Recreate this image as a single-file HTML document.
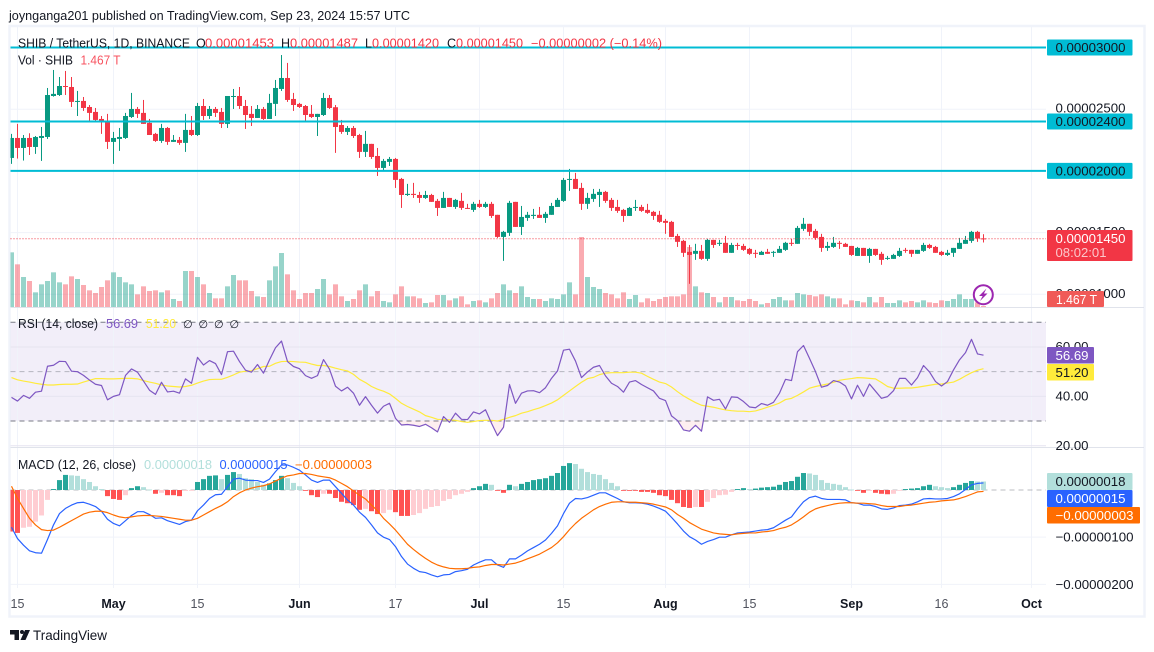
<!DOCTYPE html>
<html lang="en">
<head>
<meta charset="utf-8">
<title>SHIB / TetherUS 1D chart</title>
<style>
html,body{margin:0;padding:0;background:#fff;width:1154px;height:652px;overflow:hidden}
svg{display:block;font-family:"Liberation Sans",sans-serif}
text{white-space:pre}
</style>
</head>
<body>
<svg id="chart" xmlns="http://www.w3.org/2000/svg" width="1154" height="652" viewBox="0 0 1154 652">
<defs>
<clipPath id="plotClip"><rect x="10.5" y="27" width="1035.5" height="590"/></clipPath>
<clipPath id="oversoldClip"><rect x="10.5" y="421" width="1035.5" height="26"/></clipPath>
</defs>
<rect width="1154" height="652" fill="#ffffff"/>
<text x="9" y="20" font-size="12.5" fill="#131722" textLength="401" lengthAdjust="spacingAndGlyphs">joynganga201 published on TradingView.com, Sep 23, 2024 15:57 UTC</text>
<rect x="9.5" y="26" width="1135" height="590.5" fill="none" stroke="#f0f3fa" stroke-width="2.5"/>
<g id="plot"></g>

<g font-size="12.5">
<text x="18" y="47.5" fill="#131722" textLength="172" lengthAdjust="spacingAndGlyphs">SHIB / TetherUS, 1D, BINANCE</text>
<text x="196" y="47.5" fill="#131722">O</text>
<text x="205" y="47.5" fill="#f23645" textLength="69" lengthAdjust="spacingAndGlyphs">0.00001453</text>
<text x="281" y="47.5" fill="#131722">H</text>
<text x="290" y="47.5" fill="#f23645" textLength="68" lengthAdjust="spacingAndGlyphs">0.00001487</text>
<text x="365" y="47.5" fill="#131722">L</text>
<text x="372" y="47.5" fill="#f23645" textLength="67" lengthAdjust="spacingAndGlyphs">0.00001420</text>
<text x="447" y="47.5" fill="#131722">C</text>
<text x="456" y="47.5" fill="#f23645" textLength="67" lengthAdjust="spacingAndGlyphs">0.00001450</text>
<text x="531" y="47.5" fill="#f23645" textLength="131" lengthAdjust="spacingAndGlyphs">−0.00000002 (−0.14%)</text>
<text x="18" y="64.5" fill="#131722" textLength="55" lengthAdjust="spacingAndGlyphs">Vol · SHIB</text>
<text x="80.5" y="64.5" fill="#f7525f" textLength="40" lengthAdjust="spacingAndGlyphs">1.467 T</text>
</g>

<g font-size="12.5">
<text x="18" y="328" fill="#131722" textLength="80" lengthAdjust="spacingAndGlyphs">RSI (14, close)</text>
<text x="106" y="328" fill="#7e57c2" textLength="32" lengthAdjust="spacingAndGlyphs">56.69</text>
<text x="146" y="328" fill="#ffeb3b" textLength="30" lengthAdjust="spacingAndGlyphs">51.20</text>
<text x="183" y="328" fill="#131722" font-size="11">∅</text>
<text x="198.500" y="328" fill="#131722" font-size="11">∅</text>
<text x="214" y="328" fill="#131722" font-size="11">∅</text>
<text x="229.500" y="328" fill="#131722" font-size="11">∅</text>
</g>

<g font-size="12.5">
<text x="18" y="469" fill="#131722" textLength="118" lengthAdjust="spacingAndGlyphs">MACD (12, 26, close)</text>
<text x="144" y="469" fill="#b2dfdb" textLength="68" lengthAdjust="spacingAndGlyphs">0.00000018</text>
<text x="219.500" y="469" fill="#2962ff" textLength="68" lengthAdjust="spacingAndGlyphs">0.00000015</text>
<text x="295" y="469" fill="#ff6d00" textLength="77" lengthAdjust="spacingAndGlyphs">−0.00000003</text>
</g>

<g font-size="13">
<rect x="1047" y="230" width="85.500" height="31" fill="#f23645" rx="1"/>
<text x="1055.500" y="243" fill="#ffffff" textLength="70" lengthAdjust="spacingAndGlyphs">0.00001450</text>
<text x="1055.500" y="257" fill="#ffffff" fill-opacity="0.72" textLength="51" lengthAdjust="spacingAndGlyphs">08:02:01</text>
<rect x="1047" y="291" width="57" height="16" fill="#f05a58" rx="1"/>
<text x="1056" y="304" fill="#ffffff" textLength="41" lengthAdjust="spacingAndGlyphs">1.467 T</text>
<rect x="1047" y="347" width="47" height="16.500" fill="#7e57c2" rx="1"/>
<text x="1055.500" y="360" fill="#ffffff" textLength="33" lengthAdjust="spacingAndGlyphs">56.69</text>
<rect x="1047" y="364" width="47" height="16.500" fill="#ffeb3b" rx="1"/>
<text x="1055.500" y="377" fill="#131722" textLength="33" lengthAdjust="spacingAndGlyphs">51.20</text>
<rect x="1047" y="473" width="85.500" height="17" fill="#b2dfdb" rx="1"/>
<text x="1055.500" y="486" fill="#131722" textLength="70" lengthAdjust="spacingAndGlyphs">0.00000018</text>
<rect x="1047" y="490" width="85.500" height="17" fill="#2962ff" rx="1"/>
<text x="1055.500" y="503" fill="#ffffff" textLength="70" lengthAdjust="spacingAndGlyphs">0.00000015</text>
<rect x="1047" y="507" width="93" height="16.500" fill="#ff6d00" rx="1"/>
<text x="1055.500" y="520" fill="#ffffff" textLength="78" lengthAdjust="spacingAndGlyphs">−0.00000003</text>
</g>

<g>
<circle cx="983.3" cy="294.7" r="9.5" fill="#ffffff" fill-opacity="0.85" stroke="#9c27b0" stroke-width="2"/>
<polygon points="986.5,288.5 979,296 982.6,296 980,301 987.5,293.500 983.9,293.500" fill="#9c27b0"/>
</g>

<g>
<polygon points="10,630 19,630 19,640 14.500,640 14.500,634.500 10,634.500" fill="#131722"/>
<circle cx="22" cy="632" r="2" fill="#131722"/>
<polygon points="25,630 30,630 25.500,640 20.500,640" fill="#131722"/>
<text x="33" y="640" font-size="13.500" fill="#131722" textLength="74" lengthAdjust="spacingAndGlyphs">TradingView</text>
</g>
</svg>

<script>
const opens = [2105,2267,2186,2267,2194,2267,2275,2607,2615,2688,
2680,2559,2567,2518,2478,2421,2405,2235,2259,2267,
2437,2502,2470,2389,2300,2243,2348,2235,2251,2227,
2332,2291,2526,2445,2502,2478,2381,2599,2607,2526,
2462,2429,2502,2421,2543,2664,2753,2583,2543,2526,
2462,2437,2453,2591,2516,2372,2316,2348,2291,2154,
2219,2121,2024,2073,2097,1935,1805,1814,1805,1781,
1805,1757,1700,1781,1708,1757,1700,1684,1733,1708,
1733,1644,1465,1498,1749,1546,1619,1635,1644,1619,
1644,1708,1757,1927,1935,1862,1733,1773,1805,1830,
1765,1708,1684,1635,1700,1708,1684,1668,1644,1595,
1587,1473,1433,1344,1328,1352,1287,1441,1409,1417,
1336,1400,1392,1368,1336,1319,1344,1336,1336,1360,
1417,1409,1530,1571,1514,1465,1376,1384,1417,1409,
1392,1311,1376,1311,1368,1328,1287,1287,1311,1360,
1360,1328,1352,1400,1384,1344,1319,1336,1368,1409,
1433,1506,1453];
const highs = [2300,2381,2291,2305,2283,2356,2672,2818,2761,2810,
2761,2648,2599,2534,2510,2445,2462,2316,2348,2470,
2632,2518,2575,2421,2308,2381,2356,2291,2275,2462,
2445,2551,2583,2526,2518,2510,2607,2664,2680,2575,
2526,2534,2518,2624,2737,2939,2875,2632,2551,2534,
2534,2462,2632,2615,2534,2413,2364,2364,2300,2324,
2219,2186,2097,2113,2105,1943,1895,1903,1830,1838,
1814,1773,1830,1781,1773,1822,1733,1749,1765,1749,
1749,1644,1514,1757,1749,1716,1668,1692,1708,1668,
1741,1781,1943,2016,1984,1903,1822,1854,1854,1838,
1781,1765,1692,1708,1765,1725,1733,1676,1676,1611,
1595,1490,1441,1400,1409,1400,1449,1441,1441,1473,
1417,1417,1409,1376,1360,1352,1368,1352,1392,1425,
1449,1554,1619,1571,1530,1490,1425,1465,1433,1417,
1392,1384,1376,1376,1368,1344,1311,1328,1376,1376,
1360,1360,1417,1409,1392,1352,1360,1376,1457,1473,
1514,1514,1487];
const lows = [2057,2100,2084,2129,2138,2081,2259,2602,2607,2615,
2518,2445,2486,2399,2399,2300,2178,2057,2162,2259,
2429,2429,2381,2291,2235,2227,2211,2235,2211,2154,
2283,2283,2413,2421,2437,2348,2348,2502,2502,2340,
2364,2429,2413,2421,2445,2648,2559,2486,2510,2405,
2429,2283,2445,2502,2146,2300,2291,2267,2105,2113,
2097,1959,2000,2040,1862,1700,1797,1781,1741,1773,
1749,1635,1700,1708,1692,1684,1692,1668,1700,1700,
1619,1457,1271,1473,1546,1481,1595,1611,1619,1579,
1644,1708,1749,1838,1854,1684,1692,1749,1708,1741,
1676,1660,1587,1635,1676,1668,1652,1603,1579,1490,
1465,1384,1303,1085,1279,1279,1271,1376,1392,1336,
1336,1360,1352,1319,1295,1319,1328,1303,1336,1352,
1392,1409,1514,1473,1441,1344,1352,1376,1368,1384,
1311,1311,1311,1255,1311,1239,1279,1287,1303,1336,
1303,1328,1344,1368,1336,1311,1311,1303,1368,1409,
1417,1425,1420];
const closes = [2267,2186,2267,2194,2275,2283,2615,2624,2688,2680,
2559,2567,2510,2470,2413,2397,2235,2267,2275,2445,
2502,2462,2381,2291,2243,2348,2235,2251,2227,2332,
2291,2526,2445,2502,2470,2381,2607,2607,2526,2453,
2429,2502,2421,2551,2672,2753,2575,2534,2518,2453,
2437,2462,2591,2510,2356,2316,2348,2283,2154,2219,
2113,2024,2081,2097,1927,1805,1814,1805,1781,1805,
1749,1700,1781,1708,1765,1700,1692,1733,1708,1733,
1635,1465,1506,1741,1546,1627,1644,1644,1619,1652,
1716,1765,1927,1935,1854,1733,1781,1814,1830,1757,
1700,1676,1635,1700,1708,1676,1660,1635,1587,1579,
1465,1425,1336,1319,1352,1287,1441,1400,1417,1336,
1400,1392,1360,1328,1328,1344,1328,1344,1368,1417,
1409,1538,1571,1506,1457,1376,1392,1417,1409,1384,
1319,1376,1311,1368,1319,1279,1295,1319,1352,1352,
1328,1360,1400,1376,1336,1319,1336,1376,1417,1441,
1506,1452,1450];
const volumes = [82,64,45,39,22,34,39,52,37,34,
46,42,33,25,21,30,40,52,45,37,
34,19,31,24,25,22,25,12,9,54,
54,45,34,21,13,13,31,48,40,40,
24,16,15,40,61,81,49,25,12,21,
21,27,42,19,34,16,9,12,25,34,
16,24,9,7,19,31,16,16,13,6,
7,18,18,10,13,16,4,9,10,7,
13,21,34,25,21,31,15,12,12,9,
13,12,19,37,19,105,45,30,27,21,
19,13,22,12,18,7,13,9,12,15,
16,16,19,90,31,22,21,15,7,15,
15,10,9,12,9,4,6,12,15,10,
10,21,19,18,16,19,16,13,13,4,
10,9,7,15,7,15,6,6,10,7,
9,7,10,7,6,10,9,12,19,12,
12,7,1.467];
const rsiValues = [39.6,38.1,40.4,39.2,41.7,42.1,52.2,52.6,54.2,54.1,
50.2,50.0,48.5,46.6,44.9,44.4,38.6,40.0,40.7,48.5,
51.1,49.8,46.2,42.5,40.8,45.7,41.8,42.1,41.3,47.1,
45.3,55.8,52.7,54.5,53.3,48.8,58.1,58.3,54.1,50.6,
49.8,52.9,49.4,54.8,59.7,62.4,54.1,52.1,51.2,48.4,
47.3,48.4,54.9,51.0,44.1,42.2,43.7,41.3,36.4,39.9,
36.4,33.2,36.0,37.2,31.1,28.4,28.6,28.3,27.8,28.7,
27.3,25.6,31.8,29.5,33.2,30.7,30.6,33.7,32.9,34.6,
29.1,24.1,27.5,44.8,37.2,41.3,42.2,42.3,41.5,43.5,
47.3,50.3,58.7,59.1,54.3,47.6,49.9,51.8,52.5,48.3,
45.3,44.0,41.7,45.8,46.4,44.8,43.5,42.2,39.2,38.3,
32.1,30.2,26.4,25.9,28.3,25.9,39.8,38.4,38.8,34.9,
39.8,39.6,37.9,35.7,35.4,37.1,36.4,37.6,41.3,46.9,
46.4,58.1,60.6,55.4,50.0,43.7,44.4,46.4,45.8,44.2,
39.0,44.5,40.0,45.0,42.1,39.2,39.9,42.3,47.3,47.3,
44.6,47.6,52.5,49.9,46.0,44.2,46.0,50.7,54.8,57.7,
63.1,57.2,56.69];
const rsiSignal = [47.6,46.7,46.2,45.8,45.3,44.9,44.6,44.6,44.8,44.9,
44.9,45.0,45.8,46.5,47.2,47.2,47.1,47.1,47.2,47.3,
47.3,47.1,46.4,45.8,45.3,44.6,44.2,44.0,43.8,44.0,
44.5,45.4,46.2,46.8,46.9,46.9,47.7,48.7,49.8,50.2,
50.4,51.2,52.1,52.2,53.4,54.1,54.2,54.1,53.9,53.8,
53.1,52.5,52.5,52.1,51.4,50.8,50.3,48.9,46.9,45.6,
44.0,42.9,42.1,41.0,39.2,37.2,35.9,34.8,33.7,32.2,
31.5,30.7,30.6,30.5,30.3,29.8,29.5,29.8,30.2,30.3,
30.3,30.0,30.7,31.5,32.2,33.2,33.8,34.6,35.3,36.3,
37.3,38.6,40.4,42.2,44.0,45.7,47.2,47.7,48.8,49.4,
49.6,49.6,49.6,49.8,49.8,49.4,48.1,46.9,45.8,45.2,
43.8,41.9,40.2,38.8,37.5,36.4,36.0,35.6,35.0,34.5,
34.2,34.0,34.0,33.8,34.1,34.8,35.6,36.4,37.3,38.7,
39.2,40.4,41.8,43.3,44.0,44.5,45.0,45.7,46.5,46.9,
47.2,47.6,47.5,47.3,47.1,45.6,44.0,43.3,43.3,43.4,
43.4,43.7,44.1,44.5,44.9,45.0,45.4,45.8,46.9,48.3,
49.6,50.6,51.2];
const macdLine = [-79,-103,-117,-129,-133,-134,-105,-74,-50,-39,
-32,-27,-26,-30,-35,-45,-62,-71,-76,-65,
-54,-46,-46,-52,-60,-59,-65,-69,-73,-67,
-64,-44,-32,-18,-10,-9,7,23,25,21,
20,20,16,23,39,53,53,48,42,32,
21,16,21,21,7,-7,-21,-32,-47,-58,
-74,-91,-100,-105,-120,-141,-157,-166,-173,-175,
-180,-184,-180,-179,-173,-171,-168,-159,-153,-148,
-148,-159,-164,-146,-146,-138,-129,-122,-115,-106,
-92,-76,-50,-28,-18,-19,-16,-11,-6,-6,
-12,-18,-25,-27,-27,-28,-30,-34,-39,-45,
-58,-72,-87,-99,-106,-115,-109,-105,-100,-100,
-95,-91,-90,-89,-87,-85,-84,-80,-72,-64,
-57,-40,-25,-16,-13,-18,-20,-20,-20,-21,
-27,-28,-32,-32,-35,-40,-41,-38,-33,-32,
-30,-25,-19,-18,-19,-19,-18,-14,-8,1,
11,14,15];
const macdSignal = [8,-18,-39,-60,-74,-84,-86,-85,-79,-72,
-65,-58,-51,-47,-45,-45,-48,-53,-57,-59,
-57,-55,-54,-54,-55,-56,-58,-60,-62,-64,
-64,-60,-53,-46,-39,-33,-25,-14,-6,0,
4,7,9,13,19,25,30,32,35,35,
33,30,28,26,21,14,7,-2,-11,-19,
-32,-44,-60,-72,-85,-100,-115,-126,-136,-145,
-153,-159,-163,-166,-167,-167,-166,-164,-163,-160,
-158,-158,-159,-157,-155,-151,-146,-141,-136,-129,
-122,-112,-99,-84,-71,-60,-51,-42,-35,-30,
-26,-25,-25,-26,-26,-27,-28,-30,-33,-36,
-42,-52,-60,-69,-76,-83,-87,-91,-93,-94,
-95,-93,-92,-91,-91,-89,-88,-86,-82,-79,
-74,-66,-57,-47,-40,-36,-33,-30,-28,-27,
-27,-28,-28,-29,-30,-33,-35,-35,-35,-33,
-32,-30,-28,-26,-25,-23,-22,-21,-18,-14,
-9,-4,-3];
const macdHist = [-88,-91,-80,-78,-67,-54,-21,2,21,32,
31,30,23,17,8,2,-13,-19,-21,-11,
4,8,6,1,-8,-6,-11,-11,-13,-2,
-1,17,23,30,31,23,32,38,34,25,
23,17,11,14,21,30,25,15,8,-1,
-11,-15,-8,-8,-17,-25,-28,-32,-42,-40,
-45,-51,-49,-42,-47,-55,-55,-53,-49,-40,
-36,-34,-23,-19,-11,-8,-4,4,8,13,
11,-1,-6,11,8,13,17,21,23,25,
30,36,51,57,55,45,38,34,32,23,
15,8,-1,-1,-1,-4,-4,-6,-11,-13,
-21,-28,-36,-38,-36,-36,-25,-17,-11,-10,
-4,2,4,2,3,5,6,7,11,17,
19,28,36,35,32,21,15,13,11,6,
1,-1,-6,-2,-6,-8,-9,-8,-1,2,
3,4,8,11,8,6,4,6,11,15,
19,18,18];
const timeIndex = [1,17,31,48,64,78,92,109,123,140,155,170];
const timeLabels = ['15','May','15','Jun','17','Jul','15','Aug','15','Sep','16','Oct'];
const priceTicks = [3000,2500,2000,1500,1000];
const priceLevels = [3000,2400,2000];
const lastPrice = 1450;
const rsiTicks = [60,40,20];
const rsiBands = [70,50,30];
const macdTicks = [-100,-200];

const NS = 'http://www.w3.org/2000/svg';
const plot = document.getElementById('plot');
function xAt(i){ return 11.5 + 6 * i; }
function priceY(p){ return 47.5 + (3000 - p) * 0.1234; }
function volY(v){ return 307 - v * 2 / 3; }
function rsiY(r){ return 322.3 + (70 - r) * 2.469; }
function macdY(v){ return 490 - v * 0.4717; }
function add(parent, tag, attrs){
  const el = document.createElementNS(NS, tag);
  for (const k in attrs) el.setAttribute(k, attrs[k]);
  parent.appendChild(el);
  return el;
}
function fmt(v){
  const s = (Math.abs(v) * 1e-8).toFixed(8);
  return (v < 0 ? '\u2212' : '') + s;
}
function linePoints(values, yFn){
  return values.map(function(v, i){ return xAt(i) + ',' + yFn(v).toFixed(2); }).join(' ');
}

/* background layers */
const gridLayer = add(plot, 'g', {});



const rsiBg = add(gridLayer, 'rect', {x:10.5, y:rsiY(70), width:1035.5, height:rsiY(30)-rsiY(70), fill:'#7e57c2', 'fill-opacity':0.1});



timeIndex.forEach(function(idx){
  const v = add(gridLayer, 'line', {x1:xAt(idx), x2:xAt(idx), y1:27, y2:588, stroke:'#f0f3fa', 'stroke-width':1});
  
  
});
priceTicks.forEach(function(p){
  const h = add(gridLayer, 'line', {x1:10.5, x2:1046, y1:priceY(p), y2:priceY(p), stroke:'#f0f3fa', 'stroke-width':1});
  
  
});
rsiTicks.forEach(function(r){
  const h = add(gridLayer, 'line', {x1:10.5, x2:1046, y1:rsiY(r), y2:rsiY(r), stroke:'#e6e4f0', 'stroke-width':1});
  
  
});
macdTicks.forEach(function(m){
  const h = add(gridLayer, 'line', {x1:10.5, x2:1046, y1:macdY(m), y2:macdY(m), stroke:'#f0f3fa', 'stroke-width':1});
  
  
});
[307.5, 447.5].forEach(function(y){
  const s = add(gridLayer, 'line', {x1:10.5, x2:1144, y1:y, y2:y, stroke:'#e0e3eb', 'stroke-width':1});
  
  
});

/* volume + candles */
const marks = add(plot, 'g', {'clip-path':'url(#plotClip)'});



volumes.forEach(function(v, i){
  const up = closes[i] >= opens[i];
  const left = Math.floor(xAt(i)) - 2;
  const b = add(marks, 'rect', {x:left, y:volY(v), width:5, height:307 - volY(v), fill: up ? '#089981' : '#f23645', 'fill-opacity':0.42});
  
  
});
opens.forEach(function(o, i){
  const c = closes[i];
  const up = c >= o;
  const col = up ? '#089981' : '#f23645';
  const cx = Math.floor(xAt(i));
  const wick = add(marks, 'rect', {x:cx, y:priceY(highs[i]), width:1, height:priceY(lows[i]) - priceY(highs[i]), fill:col});
  
  
  const top = priceY(Math.max(o, c));
  const bh = Math.max(1, priceY(Math.min(o, c)) - top);
  const body = add(marks, 'rect', {x:cx - 2, y:top, width:5, height:bh, fill:col});
  
  
});
priceLevels.forEach(function(p){
  const l = add(marks, 'line', {x1:10.5, x2:1046, y1:priceY(p), y2:priceY(p), stroke:'#00bcd4', 'stroke-width':2});
  
  
});
const lastLine = add(marks, 'line', {x1:10.5, x2:1046, y1:priceY(lastPrice), y2:priceY(lastPrice), stroke:'#f23645', 'stroke-width':1, 'stroke-dasharray':'1 2'});



/* RSI */
const rsiPane = add(plot, 'g', {'clip-path':'url(#plotClip)'});


rsiBands.forEach(function(r){
  const mid = r === 50;
  const d = add(rsiPane, 'line', {x1:10.5, x2:1046, y1:rsiY(r), y2:rsiY(r), stroke:'#787b86', 'stroke-opacity': mid ? 0.5 : 1, 'stroke-width':1, 'stroke-dasharray':'5 4'});
  
  
});
const oversold = add(rsiPane, 'polygon', {points: xAt(0) + ',' + rsiY(30) + ' ' + linePoints(rsiValues, rsiY) + ' ' + xAt(rsiValues.length - 1) + ',' + rsiY(30), fill:'#f23645', 'fill-opacity':0.08, 'clip-path':'url(#oversoldClip)'});


const sigLine = add(rsiPane, 'polyline', {points: linePoints(rsiSignal, rsiY), fill:'none', stroke:'#ffeb3b', 'stroke-width':1.2, 'stroke-linejoin':'round'});


const rsiLine = add(rsiPane, 'polyline', {points: linePoints(rsiValues, rsiY), fill:'none', stroke:'#7e57c2', 'stroke-width':1.2, 'stroke-linejoin':'round'});



/* MACD */
const macdPane = add(plot, 'g', {'clip-path':'url(#plotClip)'});


const zero = add(macdPane, 'line', {x1:10.5, x2:1046, y1:macdY(0), y2:macdY(0), stroke:'#787b86', 'stroke-opacity':0.5, 'stroke-width':1, 'stroke-dasharray':'5 4'});


macdHist.forEach(function(v, i){
  const prev = i > 0 ? macdHist[i - 1] : v;
  let col;
  if (v >= 0) { col = v > prev ? '#26a69a' : '#b2dfdb'; }
  else { col = v > prev ? '#ffcdd2' : '#ff5252'; }
  const y0 = macdY(0), y1 = macdY(v);
  const bar = add(macdPane, 'rect', {x:Math.floor(xAt(i)) - 2, y:Math.min(y0, y1), width:5, height:Math.max(0.8, Math.abs(y1 - y0)), fill:col});
  
  
});
const macdL = add(macdPane, 'polyline', {points: linePoints(macdLine, macdY), fill:'none', stroke:'#2962ff', 'stroke-width':1.2, 'stroke-linejoin':'round'});


const macdS = add(macdPane, 'polyline', {points: linePoints(macdSignal, macdY), fill:'none', stroke:'#ff6d00', 'stroke-width':1.2, 'stroke-linejoin':'round'});



/* axis labels */
const axes = add(plot, 'g', {'font-size':13, fill:'#131722'});


priceTicks.forEach(function(p){
  const t = add(axes, 'text', {x:1055.5, y:priceY(p) - 1 + 4.5, textLength:70, lengthAdjust:'spacingAndGlyphs'});
  t.textContent = fmt(p);
  
  
});
rsiTicks.forEach(function(r){
  const t = add(axes, 'text', {x:1055.5, y:rsiY(r) + 4, textLength:33, lengthAdjust:'spacingAndGlyphs'});
  t.textContent = r.toFixed(2);
  
  
});
macdTicks.forEach(function(m){
  const t = add(axes, 'text', {x:1055.5, y:macdY(m) + 4.5, textLength:78, lengthAdjust:'spacingAndGlyphs'});
  t.textContent = fmt(m);
  
  
});
priceLevels.forEach(function(p){
  const r = add(axes, 'rect', {x:1047, y:priceY(p) - 8, width:85.5, height:16, rx:1, fill:'#00bcd4'});
  
  
  const t = add(axes, 'text', {x:1055.5, y:priceY(p) + 4.5, textLength:70, lengthAdjust:'spacingAndGlyphs', fill:'#131722'});
  t.textContent = fmt(p);
  
  
});
timeLabels.forEach(function(label, k){
  const isMonth = isNaN(Number(label));
  const t = add(axes, 'text', {x:xAt(timeIndex[k]), y:608, 'text-anchor':'middle', 'font-size':12.5, 'font-weight': isMonth ? 700 : 400, fill: isMonth ? '#131722' : '#50535e'});
  t.textContent = label;
  
  
});
</script>
</body>
</html>
